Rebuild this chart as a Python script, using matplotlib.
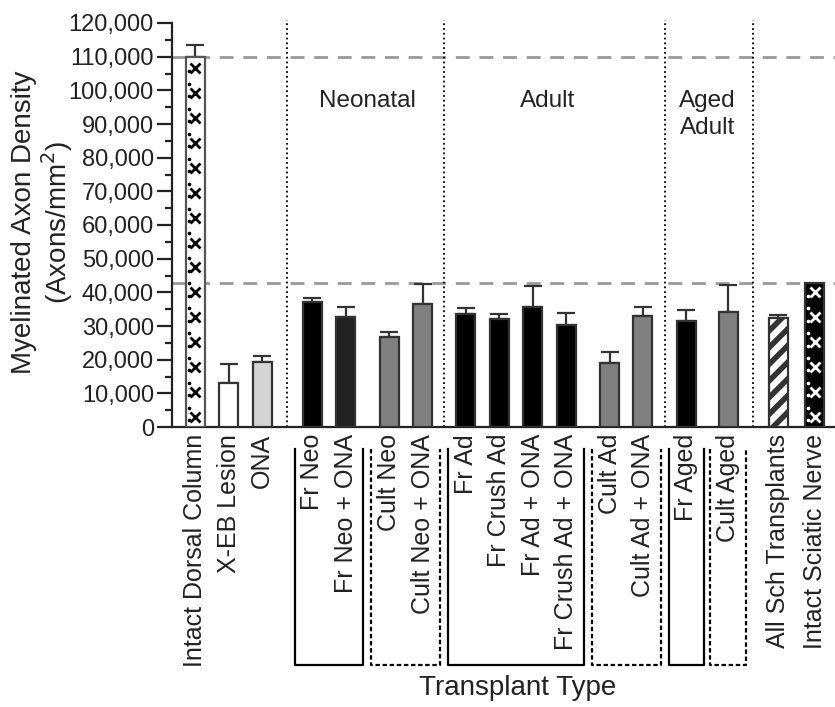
import matplotlib.pyplot as plt
import matplotlib.transforms as mtransforms
import numpy as np

plt.rcParams['font.family'] = ['Liberation Sans', 'DejaVu Sans']
plt.rcParams['hatch.linewidth'] = 4
plt.rcParams['hatch.color'] = 'black'

# data
categories = ["Intact Dorsal Column", "X-EB Lesion", "ONA",
              "Fr Neo", "Fr Neo + ONA", "Cult Neo", "Cult Neo + ONA",
              "Fr Ad", "Fr Crush Ad", "Fr Ad + ONA", "Fr Crush Ad + ONA",
              "Cult Ad", "Cult Ad + ONA", "Fr Aged", "Cult Aged",
              "All Sch Transplants", "Intact Sciatic Nerve"]
density = [110000, 13000, 19200, 37200, 32700, 26600, 36500, 33500, 32200,
           35500, 30300, 19000, 32900, 31500, 34200, 32300, 42700]
sem = [3500, 5600, 1800, 1200, 3000, 1700, 5900, 1700, 1500, 6300, 3700,
       3300, 2800, 3200, 7900, 900, 0]
age_groups = ["Neonatal", "Adult", "Aged\nAdult"]

# layout / styling
positions = [0, 1, 2, 3.5, 4.5, 5.8, 6.8, 8.1, 9.1, 10.1, 11.1, 12.4, 13.4,
             14.7, 15.95, 17.45, 18.55]
fills = ['white', 'white', '#d4d4d4', 'black', '#222222', '#808080', '#808080',
         'black', 'black', 'black', 'black', '#808080', '#808080', 'black',
         '#808080', 'white', 'black']
edges = ['#555555'] + ['#333333'] * 16
hatches = [None] * 15 + ['//', None]
separators = [2, 6, 12, 14]          # line drawn after these bars
brackets = [(3, 4, '-'), (5, 6, ':'), (7, 10, '-'), (11, 12, ':'),
            (13, 13, '-'), (14, 14, ':')]
group_spans = [(3, 6), (7, 12), (13, 14)]
group_shift = [0, -0.2, 0]
width = 0.57

fig = plt.figure(figsize=(8.35, 7.07), dpi=100)
ax = fig.add_axes([172 / 835, 1 - 427 / 707, 663 / 835, 404 / 707])

for i in range(len(categories)):
    ax.bar(positions[i], density[i], width, color=fills[i], edgecolor=edges[i],
           linewidth=1.6, hatch=hatches[i], zorder=3)

# upper error bars only
idx = [i for i in range(len(sem)) if sem[i] > 0]
ax.errorbar([positions[i] for i in idx], [density[i] for i in idx],
            yerr=[np.zeros(len(idx)), [sem[i] for i in idx]], fmt='none',
            ecolor='#333333', elinewidth=1.6, capsize=6.5, capthick=1.6,
            zorder=2)

# cross markers inside the two intact bars
for i, col in [(0, 'black'), (len(categories) - 1, 'white')]:
    ys = np.arange(3000, density[i] - 1500, 7400)
    ax.plot([positions[i]] * len(ys), ys, ls='none', marker='x', ms=6.5,
            mew=2, color=col, zorder=4)
    ds = np.arange(2000, density[i] - 1000, 3700)
    ax.plot([positions[i] - width * 0.36] * len(ds), ds, ls='none', marker='o',
            ms=1.6, color=col, zorder=4)

# reference lines at the intact levels
for ref in (density[0], density[-1]):
    ax.axhline(ref, color='#999999', lw=2, dashes=(5, 3.5), zorder=1)

# vertical dotted separators
for s in separators:
    xs = (positions[s] + positions[s + 1]) / 2
    ax.plot([xs, xs], [0, 121000], color='black', lw=1.3, ls=':',
            clip_on=False, zorder=1)

# age group titles
for name, (a, b), sh in zip(age_groups, group_spans, group_shift):
    ax.text((positions[a] + positions[b]) / 2 + sh, 100000, name, ha='center',
            va='top', fontsize=17.5, color='#222222', linespacing=1.3)

# brackets under the tick labels
trans = mtransforms.blended_transform_factory(ax.transData, ax.transAxes)
for a, b, ls in brackets:
    x0 = positions[a] - 0.53
    x1 = positions[b] + 0.53
    ax.plot([x0, x0, x1, x1], [-0.054, -0.589, -0.589, -0.054], color='black',
            lw=1.6, ls='-' if ls == '-' else (0, (2, 1.2)),
            transform=trans, clip_on=False)

ax.set_xlim(-0.7, 19.15)
ax.set_ylim(0, 120000)
ax.set_xticks(positions)
ax.set_xticklabels(categories, rotation=90, fontsize=18, color='#222222')
ax.tick_params(axis='x', length=0, pad=5)
ax.set_yticks(np.arange(0, 120001, 10000))
ax.set_yticks(np.arange(5000, 120000, 10000), minor=True)
ax.set_yticklabels(['{:,}'.format(v) for v in range(0, 120001, 10000)],
                   fontsize=17, color='#222222')
ax.tick_params(axis='y', which='major', length=11, width=1.6, pad=2,
               color='#222222')
ax.tick_params(axis='y', which='minor', length=5, width=1.6, color='#222222')

for side in ('top', 'right'):
    ax.spines[side].set_visible(False)
for side in ('left', 'bottom'):
    ax.spines[side].set_linewidth(1.6)
    ax.spines[side].set_color('#222222')

fig.text(43 / 835, 1 - 222 / 707, "Myelinated Axon Density\n(Axons/mm$^2$)",
         rotation=90, ha='center', va='center', fontsize=20,
         color='#222222', linespacing=1.1, multialignment='center')
fig.text(518 / 835, 1 - 688 / 707, "Transplant Type", ha='center',
         va='center', fontsize=20, color='#222222')

fig.savefig('out.png', dpi=100)
